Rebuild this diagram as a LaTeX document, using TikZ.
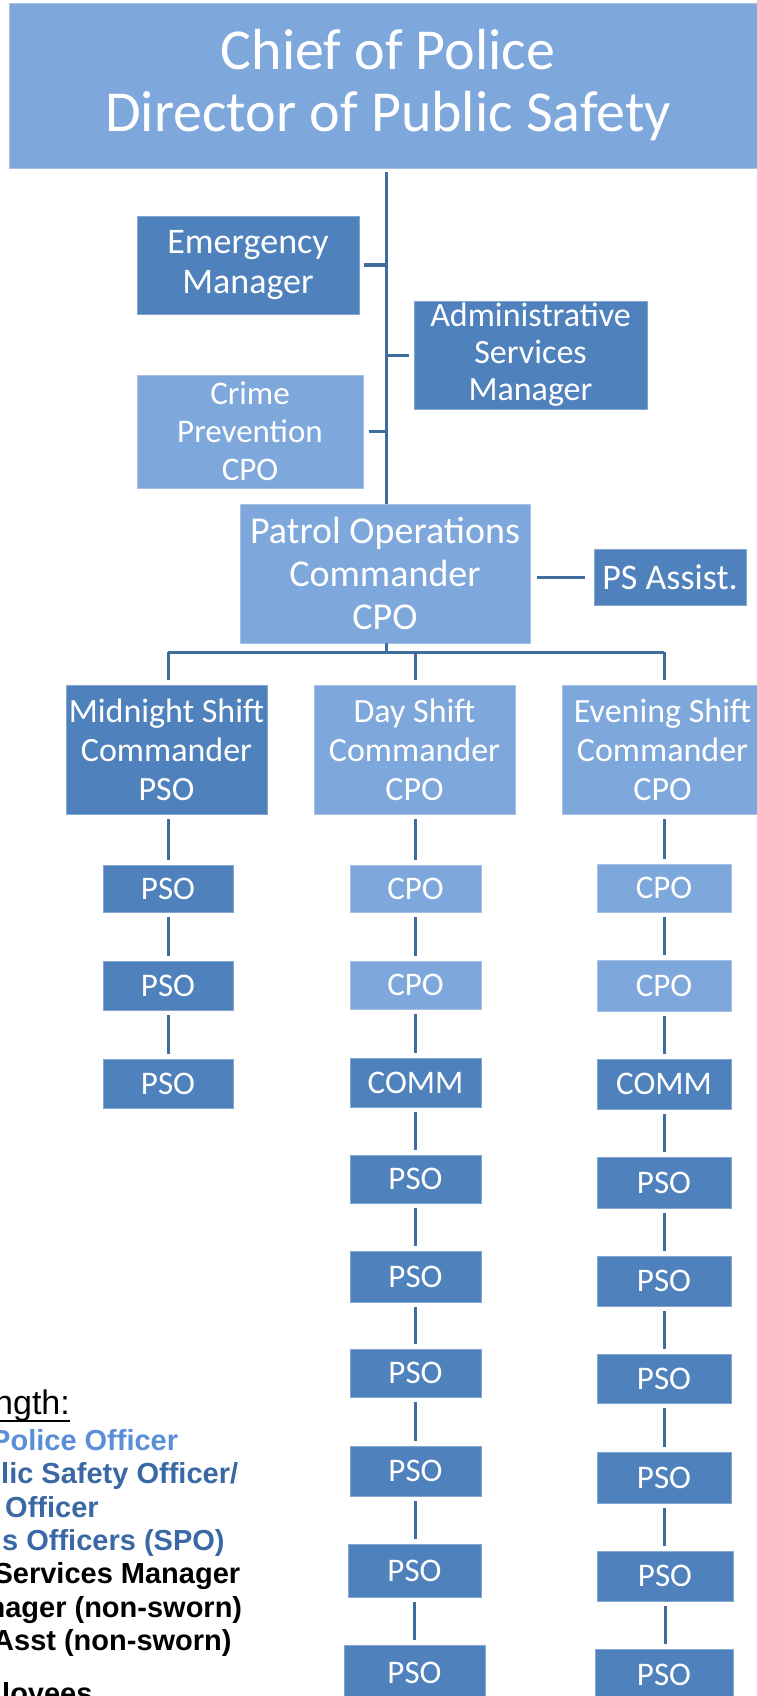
\documentclass[tikz,border=0pt]{standalone}
\usepackage{fontspec}
\newfontfamily\boxfont{Carlito}
\newfontfamily\legfont{Liberation Sans}
\definecolor{dkfill}{HTML}{4F81BD}
\definecolor{ltfill}{HTML}{7EA7DC}
\definecolor{connc}{HTML}{3F6E9E}
\definecolor{legl}{HTML}{5A8FD8}
\definecolor{legd}{HTML}{3A68A4}
\begin{document}
\begin{tikzpicture}[x=1pt,y=-1pt,
  boxbase/.style={rectangle, inner sep=0pt, align=center, text=white},
  dkbox/.style={boxbase, fill=dkfill, draw=dkfill!70!white, line width=0.6pt},
  ltbox/.style={boxbase, fill=ltfill, draw=ltfill!70!white, line width=0.6pt},
  fsz/.style 2 args={font=\boxfont\fontsize{#1}{#2}\selectfont},
  conn/.style={draw=connc, line width=3pt},
  legtxt/.style={anchor=base west, inner sep=0pt, font=\legfont\bfseries\fontsize{29}{33}\selectfont}
]
\useasboundingbox (0,0) rectangle (756,1696);

% top levels
\node[ltbox, fsz={58}{62}, minimum width=758, minimum height=165] (title) at (388,85.5) {Chief of Police\\Director of Public Safety};
\node[dkbox, fsz={36}{40}, minimum width=222, minimum height=98] (emerg) at (248,265) {Emergency\\Manager};
\node[dkbox, fsz={34}{37}, minimum width=233, minimum height=108] (admin) at (530.5,355) {Administrative\\Services\\Manager};
\node[ltbox, fsz={33}{38}, minimum width=226, minimum height=113] (crime) at (250,431.5) {Crime\\Prevention\\CPO};
\node[ltbox, fsz={38}{43}, minimum width=290, minimum height=139] (patrol) at (385,573.5) {Patrol Operations\\Commander\\CPO};
\node[dkbox, fsz={36}{40}, minimum width=152, minimum height=56] (psa) at (670,577) {PS Assist.};

% shift commanders
\node[dkbox, fsz={34}{39}, minimum width=201, minimum height=129] (mid) at (166.5,749.5) {Midnight Shift\\Commander\\PSO};
\node[ltbox, fsz={34}{39}, minimum width=201, minimum height=129] (day) at (414.5,749.5) {Day Shift\\Commander\\CPO};
\node[ltbox, fsz={34}{39}, minimum width=201, minimum height=129] (eve) at (662.5,749.5) {Evening Shift\\Commander\\CPO};

% midnight column
\node[dkbox, fsz={33}{38}, minimum width=130, minimum height=47] (m1) at (168,888.5) {PSO};
\node[dkbox, fsz={33}{38}, minimum width=130, minimum height=49] (m2) at (168,985.5) {PSO};
\node[dkbox, fsz={33}{38}, minimum width=130, minimum height=49] (m3) at (168,1083.5) {PSO};

% day column
\node[ltbox, fsz={33}{38}, minimum width=131, minimum height=47] (d1) at (415.5,888.5) {CPO};
\node[ltbox, fsz={33}{38}, minimum width=131, minimum height=48] (d2) at (415.5,985) {CPO};
\node[dkbox, fsz={33}{38}, minimum width=131, minimum height=49] (d3) at (415.5,1082.5) {COMM};
\node[dkbox, fsz={33}{38}, minimum width=131, minimum height=48] (d4) at (415.5,1179) {PSO};
\node[dkbox, fsz={33}{38}, minimum width=131, minimum height=51] (d5) at (415.5,1276.5) {PSO};
\node[dkbox, fsz={33}{38}, minimum width=131, minimum height=48] (d6) at (415.5,1373) {PSO};
\node[dkbox, fsz={33}{38}, minimum width=131, minimum height=50] (d7) at (415.5,1471) {PSO};
\node[dkbox, fsz={33}{38}, minimum width=133, minimum height=53] (d8) at (414.5,1570.5) {PSO};
\node[dkbox, fsz={33}{38}, minimum width=141, minimum height=55] (d9) at (414.5,1672.5) {PSO};

% evening column
\node[ltbox, fsz={33}{38}, minimum width=134, minimum height=48] (e1) at (664,888) {CPO};
\node[ltbox, fsz={33}{38}, minimum width=134, minimum height=51] (e2) at (664,985.5) {CPO};
\node[dkbox, fsz={33}{38}, minimum width=134, minimum height=50] (e3) at (664,1084) {COMM};
\node[dkbox, fsz={33}{38}, minimum width=134, minimum height=51] (e4) at (664,1182.5) {PSO};
\node[dkbox, fsz={33}{38}, minimum width=134, minimum height=50] (e5) at (664,1281) {PSO};
\node[dkbox, fsz={33}{38}, minimum width=134, minimum height=49] (e6) at (664,1378.5) {PSO};
\node[dkbox, fsz={33}{38}, minimum width=134, minimum height=51] (e7) at (664,1477.5) {PSO};
\node[dkbox, fsz={33}{38}, minimum width=136, minimum height=50] (e8) at (665,1576) {PSO};
\node[dkbox, fsz={33}{38}, minimum width=138, minimum height=51] (e9) at (664,1674.5) {PSO};

% connectors
\coordinate (tk) at (386,0);
\draw[conn, shorten <=4pt] (title.south -| tk) -- (patrol.north -| tk);
\draw[conn, shorten <=5pt] (emerg.east) -- (emerg.east -| tk);
\draw[conn, shorten >=5pt] (admin.west -| tk) -- (admin.west);
\draw[conn, shorten <=6pt] (crime.east) -- (crime.east -| tk);
\draw[conn, shorten <=7pt, shorten >=9pt] (patrol.east |- psa.west) -- (psa.west);
\coordinate (bus) at (386,652);
\draw[conn] (patrol.south -| tk) -- (bus);
\draw[conn] (bus -| m1.north) -- (bus -| e1.north);
\draw[conn, shorten >=5pt] (bus -| m1.north) -- (mid.north -| m1.north);
\draw[conn, shorten >=5pt] (bus -| d1.north) -- (day.north -| d1.north);
\draw[conn, shorten >=5pt] (bus -| e1.north) -- (eve.north -| e1.north);
\draw[conn, shorten <=5pt, shorten >=5pt] (mid.south -| m1.north) -- (m1.north);
\draw[conn, shorten <=5pt, shorten >=5pt] (day.south -| d1.north) -- (d1.north);
\draw[conn, shorten <=5pt, shorten >=5pt] (eve.south -| e1.north) -- (e1.north);
\foreach \a/\b in {m1/m2, m2/m3, d1/d2, d2/d3, d3/d4, d4/d5, d5/d6, d6/d7, d7/d8, d8/d9, e1/e2, e2/e3, e3/e4, e4/e5, e5/e6, e6/e7, e7/e8, e8/e9}
  {\draw[conn, shorten <=5pt, shorten >=5pt] (\a.south) -- (\a.south |- \b.north);}

% legend (cut off at the left edge)
\node[legtxt, font=\legfont\fontsize{34}{40}\selectfont] (lg0) at (-6,1414) {ngth:};
\draw[line width=2pt] ([yshift=-7pt]lg0.base west) -- ([yshift=-7pt]lg0.base east);
\node[legtxt, text=legl] (lg1) at (-9,1450) {Police Officer};
\node[legtxt, text=legd] (lg2) at (1,1483) {lic Safety Officer/};
\node[legtxt, text=legd] (lg3) at (5,1517) {Officer};
\node[legtxt, text=legd] (lg4) at (2,1550) {s Officers (SPO)};
\node[legtxt] (lg5) at (-6.6,1583) {Services Manager};
\node[legtxt] (lg6) at (-12.6,1617) {nager (non-sworn)};
\node[legtxt] (lg7) at (-7,1650) {Asst (non-sworn)};
\node[legtxt] (lg8) at (2,1703) {loyees};
\end{tikzpicture}
\end{document}
